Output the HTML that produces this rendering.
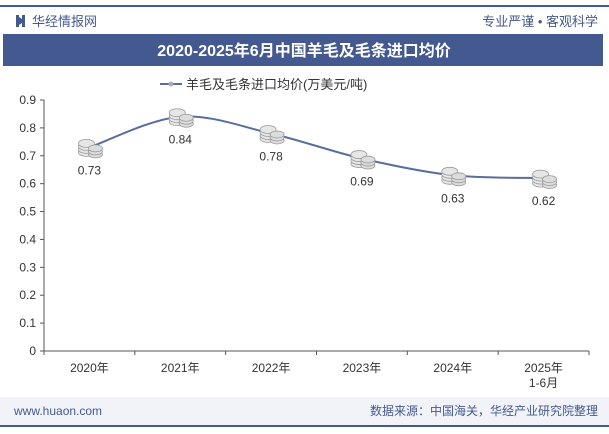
<!DOCTYPE html>
<html><head><meta charset="utf-8"><style>
body{margin:0;width:609px;height:429px;overflow:hidden;background:#fff;font-family:"Liberation Sans","Noto Sans CJK SC",sans-serif;}
</style></head><body>
<svg width="609" height="429" xmlns="http://www.w3.org/2000/svg" style="font-family:'Liberation Sans','Noto Sans CJK SC',sans-serif">
<rect x="0" y="5" width="609" height="2" fill="#44598f"/>
<g>
<rect x="16" y="15" width="3" height="12" fill="#44598f"/><rect x="22" y="15" width="3" height="12" fill="#44598f"/><polygon points="19,17 22,19 22,23 19,25" fill="#44598f"/>
<text x="32" y="26" font-size="13" fill="#44598f">华经情报网</text></g>
<text x="598" y="26" font-size="13" fill="#44598f" text-anchor="end">专业严谨 • 客观科学</text>
<rect x="3" y="34" width="600" height="32" fill="#44598f"/>
<text x="304" y="56" font-size="16" font-weight="bold" fill="#fff" text-anchor="middle">2020-2025年6月中国羊毛及毛条进口均价</text>
<g>
<line x1="160" y1="84" x2="182" y2="84" stroke="#5a6e9c" stroke-width="2"/><circle cx="171" cy="84" r="2.5" fill="#aab"/>
<text x="186" y="89" font-size="13" fill="#333">羊毛及毛条进口均价(万美元/吨)</text></g>
<g id="axes"></g><g id="plot"></g>
<rect x="0" y="397" width="609" height="28" fill="#f1f3f9"/>
<text x="14" y="415" font-size="12" fill="#44598f">www.huaon.com</text>
<text x="598" y="415" font-size="12" fill="#44598f" text-anchor="end">数据来源：中国海关，华经产业研究院整理</text>
<rect x="0" y="425" width="609" height="2" fill="#44598f"/>
</svg>
<script>
const categories=["2020年","2021年","2022年","2023年","2024年","2025年|1-6月"];
const values=[0.73,0.84,0.78,0.69,0.63,0.62];
const yTicks=[0,0.1,0.2,0.3,0.4,0.5,0.6,0.7,0.8,0.9];
const NS="http://www.w3.org/2000/svg";
const x0=44,x1=589,y0=351,yTop=100,yMax=0.9;
const bw=(x1-x0)/categories.length;
const xs=i=>x0+bw*(i+0.5);
const ys=v=>y0-(v/yMax)*(y0-yTop);
function mk(t,a,p){const e=document.createElementNS(NS,t);for(const k in a)e.setAttribute(k,a[k]);p.appendChild(e);return e;}
const ax=document.getElementById('axes'),pl=document.getElementById('plot');
const ya=mk('line',{x1:x0,y1:yTop,x2:x0,y2:y0,stroke:'#555'},ax);


const xa=mk('line',{x1:x0,y1:y0,x2:x1,y2:y0,stroke:'#555'},ax);


yTicks.forEach(v=>{const y=ys(v);mk('line',{x1:x0-4,y1:y,x2:x0,y2:y,stroke:'#555'},ax);
const t=mk('text',{x:x0-8,y:y+4,'font-size':12,fill:'#333','text-anchor':'end'},ax);t.textContent=String(v);

});
categories.forEach((c,i)=>{mk('line',{x1:x0+bw*i,y1:y0,x2:x0+bw*i,y2:y0+4,stroke:'#555'},ax);
const parts=c.split('|');parts.forEach((p,j)=>{const t=mk('text',{x:xs(i),y:372+j*15,'font-size':12,fill:'#333','text-anchor':'middle'},ax);t.textContent=p;

});});
mk('line',{x1:x1,y1:y0,x2:x1,y2:y0+4,stroke:'#555'},ax);
// smooth path (catmull-rom)
const P=values.map((v,i)=>[xs(i),ys(v)]);
let d=`M${P[0][0]},${P[0][1]}`;
for(let i=0;i<P.length-1;i++){const p0=P[Math.max(0,i-1)],p1=P[i],p2=P[i+1],p3=P[Math.min(P.length-1,i+2)];
const c1=[p1[0]+(p2[0]-p0[0])/6,p1[1]+(p2[1]-p0[1])/6],c2=[p2[0]-(p3[0]-p1[0])/6,p2[1]-(p3[1]-p1[1])/6];
d+=` C${c1[0]},${c1[1]} ${c2[0]},${c2[1]} ${p2[0]},${p2[1]}`;}
const ln=mk('path',{d:d,fill:'none',stroke:'#5a6e9c','stroke-width':2},pl);


values.forEach((v,i)=>{const x=xs(i),y=ys(v);const g=mk('g',{},pl);


[[6,-6],[0,-3],[4,0],[-2,3]].forEach(o=>{});
for(let k=3;k>=0;k--){mk('ellipse',{cx:x-3,cy:y-4+k*3,rx:8,ry:4,fill:'#e6e6e6',stroke:'#999','stroke-width':0.8},g);}
for(let k=2;k>=0;k--){mk('ellipse',{cx:x+6,cy:y+1+k*3,rx:7,ry:3.5,fill:'#dcdcdc',stroke:'#999','stroke-width':0.8},g);}
const t=mk('text',{x:x,y:y+27,'font-size':12,fill:'#333','text-anchor':'middle'},pl);t.textContent=v.toFixed(2);

});
</script>
</body></html>
